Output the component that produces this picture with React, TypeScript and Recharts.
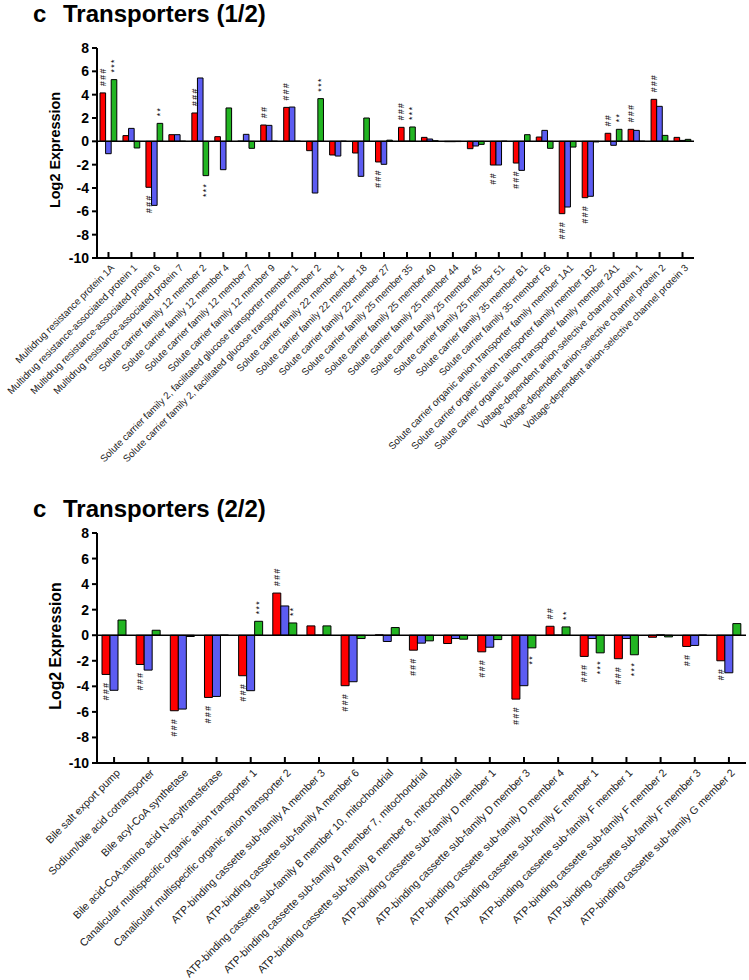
import React from 'react'
import { BarChart, Bar, XAxis, YAxis, ReferenceLine, LabelList } from 'recharts'

const FONT = 'Arial, "Liberation Sans", sans-serif'
const RED = '#ff0000'
const BLUE = '#5c5cf2'
const GREEN = '#22b522'

// panel 1
const cats1 = [
  'Multidrug resistance protein 1A',
  'Multidrug resistance-associated protein 1',
  'Multidrug resistance-associated protein 6',
  'Multidrug resistance-associated protein 7',
  'Solute carrier family 12 member 2',
  'Solute carrier family 12 member 4',
  'Solute carrier family 12 member 7',
  'Solute carrier family 12 member 9',
  'Solute carrier family 2, facilitated glucose transporter member 1',
  'Solute carrier family 2, facilitated glucose transporter member 2',
  'Solute carrier family 22 member 1',
  'Solute carrier family 22 member 18',
  'Solute carrier family 22 member 27',
  'Solute carrier family 25 member 35',
  'Solute carrier family 25 member 40',
  'Solute carrier family 25 member 44',
  'Solute carrier family 25 member 45',
  'Solute carrier family 25 member 51',
  'Solute carrier family 35 member B1',
  'Solute carrier family 35 member F6',
  'Solute carrier organic anion transporter family member 1A1',
  'Solute carrier organic anion transporter family member 1B2',
  'Solute carrier organic anion transporter family member 2A1',
  'Voltage-dependent anion-selective channel protein 1',
  'Voltage-dependent anion-selective channel protein 2',
  'Voltage-dependent anion-selective channel protein 3',
]
const red1 = [4.15, 0.49, -3.94, 0.57, 2.43, 0.4, 0.02, 1.4, 2.91, -0.8, -1.17, -1.0, -1.77, 1.2, 0.34, -0.03, -0.63, -2.03, -1.86, 0.37, -6.2, -4.83, 0.69, 1.03, 3.6, 0.34]
const blue1 = [-1.06, 1.11, -5.49, 0.57, 5.43, -2.43, 0.6, 1.37, 2.94, -4.43, -1.26, -3.0, -1.97, 0.01, 0.2, -0.03, -0.4, -2.03, -2.49, 0.94, -5.63, -4.71, -0.34, 0.94, 3.0, 0.08]
const green1 = [5.29, -0.57, 1.54, 0.01, -2.94, 2.86, -0.6, 0.01, 0.01, 3.66, 0.01, 2.0, 0.1, 1.23, 0.05, -0.02, -0.26, 0.01, 0.57, -0.6, -0.49, -0.05, 1.03, 0.01, 0.51, 0.17]
const redSig1 = ['###', '', '###', '', '###', '', '', '##', '###', '', '', '', '###', '###', '', '', '', '##', '###', '', '###', '###', '##', '###', '###', '']
const greenSig1 = ['***', '', '**', '', '***', '', '', '', '', '***', '', '', '', '***', '', '', '', '', '', '', '', '', '**', '', '', '']

// panel 2
const cats2 = [
  'Bile salt export pump',
  'Sodium/bile acid cotransporter',
  'Bile acyl-CoA synthetase',
  'Bile acid-CoA:amino acid N-acyltransferase',
  'Canalicular multispecific organic anion transporter 1',
  'Canalicular multispecific organic anion transporter 2',
  'ATP-binding cassette sub-family A member 3',
  'ATP-binding cassette sub-family A member 6',
  'ATP-binding cassette sub-family B member 10, mitochondrial',
  'ATP-binding cassette sub-family B member 7, mitochondrial',
  'ATP-binding cassette sub-family B member 8, mitochondrial',
  'ATP-binding cassette sub-family D member 1',
  'ATP-binding cassette sub-family D member 3',
  'ATP-binding cassette sub-family D member 4',
  'ATP-binding cassette sub-family E member 1',
  'ATP-binding cassette sub-family F member 1',
  'ATP-binding cassette sub-family F member 2',
  'ATP-binding cassette sub-family F member 3',
  'ATP-binding cassette sub-family G member 2',
]
const red2 = [-3.07, -2.29, -5.91, -4.87, -3.17, 3.3, 0.73, -3.95, 0.03, -1.17, -0.65, -1.3, -5.0, 0.7, -1.66, -1.84, -0.16, -0.88, -2.0]
const blue2 = [-4.31, -2.73, -5.78, -4.79, -4.34, 2.29, 0.01, -3.64, -0.49, -0.62, -0.26, -0.94, -3.95, 0.01, -0.26, -0.26, 0.03, -0.8, -2.94]
const green2 = [1.19, 0.39, -0.1, 0.01, 1.09, 0.96, 0.73, -0.26, 0.6, -0.44, -0.31, -0.34, -0.99, 0.65, -1.38, -1.53, -0.13, 0.01, 0.91]
const redSig2 = ['###', '###', '###', '###', '###', '###', '', '###', '', '###', '', '###', '###', '##', '###', '###', '', '##', '##']
const greenSig2 = ['', '', '', '', '***', '**', '', '', '', '', '', '', '**', '**', '***', '***', '', '', '']

const yTicks = [-10, -8, -6, -4, -2, 0, 2, 4, 6, 8]

const rows = (cats: string[], r: number[], b: number[], g: number[], rs: string[], gs: string[]) =>
  cats.map((name, i) => ({ name, red: r[i], blue: b[i], green: g[i], redSig: rs[i], greenSig: gs[i] }))

// significance marks, written as one column above/below the bar end
const makeSig = (values: number[]) => (props: any) => {
  const { x, y, width, height, value, index } = props
  if (!value) return null
  const top = Math.min(y, y + height)
  const bottom = Math.max(y, y + height)
  const cx = x + width / 2
  const up = values[index] >= 0
  const ay = up ? top - 7 : bottom + 7
  return (
    <text
      x={cx}
      y={ay}
      transform={`rotate(-90,${cx},${ay})`}
      textAnchor={up ? 'start' : 'end'}
      dominantBaseline="central"
      fontSize={8.5}
      letterSpacing={1.5}
      fontFamily={FONT}
      fill="#000"
    >
      {value}
    </text>
  )
}

const makeTick = (fontSize: number) => (props: any) => {
  const { x, y, payload } = props
  return (
    <g transform={`translate(${x},${y})`}>
      <line x1={0} y1={0} x2={0} y2={-6} stroke="#000" strokeWidth={2} />
      <text
        transform="translate(4,8) rotate(-45)"
        textAnchor="end"
        dy="0.35em"
        fontSize={fontSize}
        fontFamily={FONT}
        fill="#222"
      >
        {payload.value}
      </text>
    </g>
  )
}

function Panel({ data, w, h, margin, xHeight, barSize, tickFont, r, g }: any) {
  return (
    <BarChart width={w} height={h} data={data} margin={margin} barGap={0}>
      <XAxis
        dataKey="name"
        interval={0}
        height={xHeight}
        tickSize={0}
        tickMargin={0}
        tickLine={false}
        axisLine={{ stroke: '#000', strokeWidth: 2 }}
        tick={makeTick(tickFont)}
      />
      <YAxis
        width={97}
        domain={[-10, 8]}
        ticks={yTicks}
        interval={0}
        tickSize={5}
        tickMargin={3}
        axisLine={{ stroke: '#000', strokeWidth: 2 }}
        tickLine={{ stroke: '#000', strokeWidth: 2 }}
        tick={{ fill: '#000', fontSize: 14, fontWeight: 'bold', fontFamily: FONT }}
      />
      <ReferenceLine y={0} stroke="#000" strokeWidth={1.5} />
      <Bar dataKey="red" fill={RED} stroke="#000" strokeWidth={1} barSize={barSize} isAnimationActive={false}>
        <LabelList dataKey="redSig" content={makeSig(r)} />
      </Bar>
      <Bar dataKey="blue" fill={BLUE} stroke="#000" strokeWidth={1} barSize={barSize} isAnimationActive={false} />
      <Bar dataKey="green" fill={GREEN} stroke="#000" strokeWidth={1} barSize={barSize} isAnimationActive={false}>
        <LabelList dataKey="greenSig" content={makeSig(g)} />
      </Bar>
    </BarChart>
  )
}

export default function App() {
  const data1 = rows(cats1, red1, blue1, green1, redSig1, greenSig1)
  const data2 = rows(cats2, red2, blue2, green2, redSig2, greenSig2)
  return (
    <div style={{ position: 'absolute', left: 0, top: 0, width: 749, height: 980, background: '#fff', fontFamily: FONT }}>
      <div style={{ position: 'absolute', left: 0, top: 0 }}>
        <Panel data={data1} w={749} h={480} margin={{ top: 48, right: 55, left: 0, bottom: 0 }}
          xHeight={222} barSize={5.6} tickFont={9.8} r={red1} g={green1} />
      </div>
      <div style={{ position: 'absolute', left: 0, top: 490 }}>
        <Panel data={data2} w={749} h={490} margin={{ top: 43, right: 3, left: 0, bottom: 0 }}
          xHeight={217} barSize={8} tickFont={10.7} r={red2} g={green2} />
      </div>
      <svg width={749} height={980} style={{ position: 'absolute', left: 0, top: 0, pointerEvents: 'none' }}>
        <g fontFamily={FONT} fontWeight="bold" fill="#000">
          <text x={33} y={22} fontSize={24}>c</text>
          <text x={63} y={22} fontSize={24}>Transporters (1/2)</text>
          <text x={33} y={517} fontSize={24}>c</text>
          <text x={63} y={517} fontSize={24}>Transporters (2/2)</text>
          <text x={55} y={150} fontSize={14.4} textAnchor="middle" dominantBaseline="central" transform="rotate(-90,55,150)">Log2 Expression</text>
          <text x={55} y={646} fontSize={15.8} textAnchor="middle" dominantBaseline="central" transform="rotate(-90,55,646)">Log2 Expression</text>
        </g>
      </svg>
    </div>
  )
}
